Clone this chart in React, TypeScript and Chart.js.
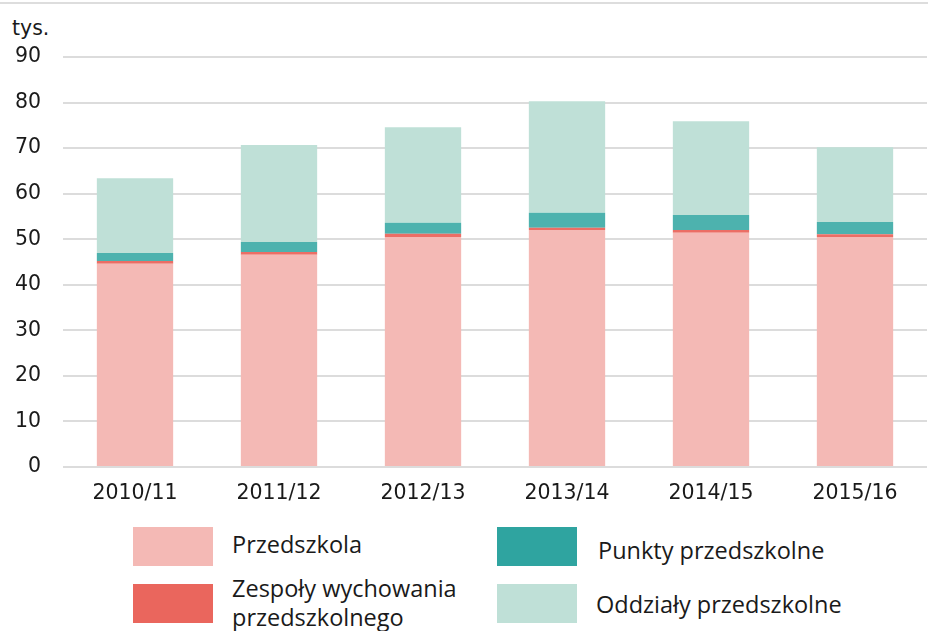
import React, { useEffect, useRef } from "react";
import { Chart, registerables } from "chart.js";

Chart.register(...registerables);

const categories = ["2010/11", "2011/12", "2012/13", "2013/14", "2014/15", "2015/16"];
const przedszkola = [44.6, 46.6, 50.5, 52.0, 51.4, 50.5];
const zespoly = [0.6, 0.6, 0.7, 0.5, 0.6, 0.6];
const punkty = [1.8, 2.2, 2.4, 3.3, 3.3, 2.7];
const oddzialy = [16.4, 21.3, 21.0, 24.5, 20.6, 16.4];
const yTicks = [0, 10, 20, 30, 40, 50, 60, 70, 80, 90];

const TICK_FONT = "'DejaVu Sans', sans-serif";
const LEGEND_FONT = "'Open Sans', sans-serif";

const legendItems = [
  { label: "Przedszkola", color: "#F4B9B5", x: 133, y: 527, tx: 232, ty: 530 },
  { label: "Zespoły wychowania\nprzedszkolnego", color: "#EA665D", x: 133, y: 584, tx: 232, ty: 574 },
  { label: "Punkty przedszkolne", color: "#2FA4A0", x: 497, y: 527, tx: 598, ty: 536 },
  { label: "Oddziały przedszkolne", color: "#BFE0D7", x: 497, y: 584, tx: 596, ty: 590 },
];

export default function App() {
  const ref = useRef<HTMLCanvasElement>(null);
  useEffect(() => {
    if (!ref.current) return;
    const chart = new Chart(ref.current, {
      type: "bar",
      data: {
        labels: categories,
        datasets: [
          { label: "Przedszkola", data: przedszkola, backgroundColor: "#F4B9B5" },
          { label: "Zespoły wychowania przedszkolnego", data: zespoly, backgroundColor: "#EB6E65" },
          { label: "Punkty przedszkolne", data: punkty, backgroundColor: "#4DB2AE" },
          { label: "Oddziały przedszkolne", data: oddzialy, backgroundColor: "#BFE0D7" },
        ],
      },
      options: {
        responsive: false,
        animation: false,
        layout: { padding: { top: 57, right: 1, left: 0, bottom: 0 } },
        datasets: { bar: { categoryPercentage: 1, barPercentage: 0.53 } },
        plugins: { legend: { display: false }, tooltip: { enabled: false } },
        scales: {
          x: {
            stacked: true,
            grid: { display: false, drawTicks: false },
            border: { display: false },
            ticks: { color: "#1a1a1a", font: { family: TICK_FONT, size: 20.5 }, padding: 14, maxRotation: 0 },
            afterFit: (s: any) => { s.height = 48; },
          },
          y: {
            stacked: true,
            min: 0,
            max: 90,
            afterBuildTicks: (s: any) => { s.ticks = yTicks.map((v) => ({ value: v })); },
            grid: { color: "#dcdcdc", lineWidth: 2, drawTicks: false },
            border: { display: false },
            ticks: { color: "#1a1a1a", font: { family: TICK_FONT, size: 20.5 }, padding: 22 },
            afterFit: (s: any) => { s.width = 63; },
          },
        },
      },
    });
    return () => chart.destroy();
  }, []);

  return (
    <div style={{ position: "fixed", left: 0, top: 0, width: 928, height: 631, background: "#fff", overflow: "hidden" }}>
      <div style={{ position: "absolute", left: 0, top: 2, width: 928, height: 2, background: "#dddddd" }} />
      <div style={{ position: "absolute", left: 12, top: 16, fontFamily: TICK_FONT, fontSize: 20.5, color: "#1a1a1a", lineHeight: "24px" }}>tys.</div>
      <canvas ref={ref} width={928} height={515} style={{ position: "absolute", left: 0, top: 0 }} />
      {legendItems.map((it) => (
        <React.Fragment key={it.label}>
          <div style={{ position: "absolute", left: it.x, top: it.y, width: 80, height: 39, background: it.color }} />
          <div style={{ position: "absolute", left: it.tx, top: it.ty, fontFamily: LEGEND_FONT, fontSize: 23.5, lineHeight: "29px", color: "#1a1a1a", whiteSpace: "pre" }}>{it.label}</div>
        </React.Fragment>
      ))}
    </div>
  );
}
